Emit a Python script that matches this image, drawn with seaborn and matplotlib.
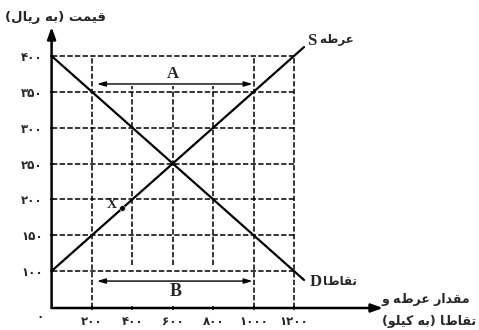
import matplotlib
matplotlib.use("Agg")
import matplotlib.pyplot as plt
import numpy as np
import pandas as pd
import seaborn as sns

# values
prices = [100, 150, 200, 250, 300, 350, 400]
price_labels = ["۱۰۰", "۱۵۰", "۲۰۰", "۲۵۰", "۳۰۰", "۳۵۰", "۴۰۰"]
quantities = [200, 400, 600, 800, 1000, 1200]
qty_labels = ["۲۰۰", "۴۰۰", "۶۰۰", "۸۰۰", "۱۰۰۰", "۱۲۰۰"]

supply_q = [0, 1250]
supply_p = [100, 412.5]
demand_q = [0, 1250]
demand_p = [400, 87.5]
point_q = [350]
point_p = [187.5]

# Arabic presentation forms: isolated, final, initial, medial
FORMS = {
    "ا": ("\uFE8D", "\uFE8E", None, None),
    "ب": ("\uFE8F", "\uFE90", "\uFE91", "\uFE92"),
    "ت": ("\uFE95", "\uFE96", "\uFE97", "\uFE98"),
    "د": ("\uFEA9", "\uFEAA", None, None),
    "ر": ("\uFEAD", "\uFEAE", None, None),
    "ض": ("\uFEBF", "\uFEC0", "\uFEC1", "\uFEC2"),
    "ع": ("\uFEC9", "\uFECA", "\uFECB", "\uFECC"),
    "ق": ("\uFED5", "\uFED6", "\uFED7", "\uFED8"),
    "ل": ("\uFEDD", "\uFEDE", "\uFEDF", "\uFEE0"),
    "م": ("\uFEE1", "\uFEE2", "\uFEE3", "\uFEE4"),
    "ه": ("\uFEE9", "\uFEEA", "\uFEEB", "\uFEEC"),
    "و": ("\uFEED", "\uFEEE", None, None),
    "ی": ("\uFBFC", "\uFBFD", "\uFBFE", "\uFBFF"),
    "ک": ("\uFB8E", "\uFB8F", "\uFB90", "\uFB91"),
}


def farsi(text):
    out = []
    for i, ch in enumerate(text):
        if ch not in FORMS:
            out.append(ch)
            continue
        prev = text[i - 1] if i > 0 else ""
        nxt = text[i + 1] if i + 1 < len(text) else ""
        j_prev = prev in FORMS and FORMS[prev][2] is not None
        j_next = FORMS[ch][2] is not None and nxt in FORMS
        iso, fin, ini, med = FORMS[ch]
        if j_prev and j_next:
            out.append(med)
        elif j_prev:
            out.append(fin)
        elif j_next:
            out.append(ini)
        else:
            out.append(iso)
    vis = "".join(reversed(out))
    return vis.translate(str.maketrans("()", ")("))


sns.set_style("white")
plt.rcParams["font.family"] = ["DejaVu Sans"]

W, H = 479, 330
fig = plt.figure(figsize=(W / 100, H / 100), dpi=100)
x0, y0, x1, y1 = 51.6, 308, 383, 27
ax = fig.add_axes([x0 / W, (H - y0) / H, (x1 - x0) / W, (y0 - y1) / H])
ax.set_xlim(0, 1641)
ax.set_ylim(48.4, 440.5)
ax.set_facecolor("none")
for s in ax.spines.values():
    s.set_visible(False)

dash = dict(color="black", lw=1.1, ls=(0, (3.5, 1.5)))
ax.hlines(prices, 0, 1200, **dash)
ax.vlines([200, 1000, 1200], 48.4, 400, **dash)
ax.vlines([400, 600, 800], 108, 358, **dash)

df = pd.DataFrame({
    "q": supply_q + demand_q,
    "p": supply_p + demand_p,
    "curve": ["S", "S", "D", "D"],
})
sns.lineplot(data=df, x="q", y="p", units="curve", estimator=None,
             color="black", lw=1.6, ax=ax)
sns.scatterplot(x=point_q, y=point_p, color="black", s=16, ax=ax, zorder=5)
ax.set_xlabel("")
ax.set_ylabel("")

# axes with arrows
arrow = dict(arrowstyle="-|>,head_length=0.7,head_width=0.25", color="black", lw=1.8,
             shrinkA=0, shrinkB=0)
ax.annotate("", xy=(0, 440.5), xytext=(0, 48.4), arrowprops=arrow, annotation_clip=False)
ax.annotate("", xy=(1641, 48.4), xytext=(0, 48.4), arrowprops=arrow, annotation_clip=False)

# A and B ranges
rng = dict(arrowstyle="<|-|>,head_length=0.5,head_width=0.15", color="black", lw=1.0,
           shrinkA=0, shrinkB=0)
ax.annotate("", xy=(995, 361), xytext=(225, 361), arrowprops=rng)
ax.annotate("", xy=(995, 86), xytext=(225, 86), arrowprops=rng)
serif = dict(family="Liberation Serif", weight="bold")
ax.text(600, 375, "A", ha="center", va="center", fontsize=12, **serif)
ax.text(612, 71, "B", ha="center", va="center", fontsize=13, **serif)
ax.text(322, 193, "X", ha="right", va="center", fontsize=10, **serif)

ax.text(1265, 421, "S", ha="left", va="center", fontsize=12, **serif)
ax.text(1325, 423, farsi("عرضه"), ha="left", va="center", fontsize=8.5, weight="bold")
ax.text(1278, 84, "D", ha="left", va="center", fontsize=12, **serif)
ax.text(1345, 86, farsi("تقاضا"), ha="left", va="center", fontsize=8.5, weight="bold")

ax.set_xticks(quantities)
ax.set_xticklabels(qty_labels, fontsize=8.5, weight="bold")
ax.set_yticks(prices)
ax.set_yticklabels(price_labels, fontsize=8.5, weight="bold")
ax.tick_params(axis="both", length=2.5, width=1.2, direction="inout",
               bottom=True, left=True)
ax.tick_params(axis="x", pad=4)
ax.tick_params(axis="y", pad=5)

fig.text(40 / W, 1 - 316 / H, "۰", ha="center", va="center", fontsize=8.5, weight="bold")
fig.text(55 / W, 1 - 17 / H, farsi("قیمت (به ریال)"), ha="center", va="center",
         fontsize=9.5, weight="bold")
fig.text(470 / W, 1 - 299 / H, farsi("مقدار عرضه و"), ha="right", va="center",
         fontsize=9, weight="bold")
fig.text(476 / W, 1 - 321 / H, farsi("تقاضا (به کیلو)"), ha="right", va="center",
         fontsize=9, weight="bold")

fig.savefig("out.png", dpi=100)
